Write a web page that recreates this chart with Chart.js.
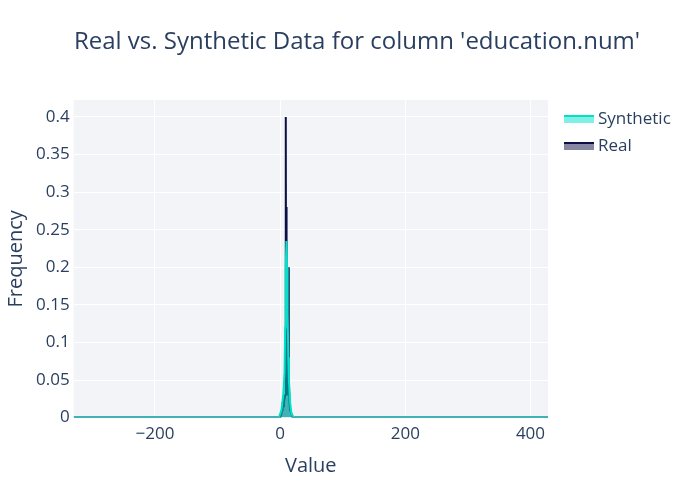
<!DOCTYPE html>
<html>
<head>
<meta charset="utf-8">
<script src="https://cdn.jsdelivr.net/npm/chart.js@4"></script>
<style>
  body { margin: 0; background: #fff; }
  #wrap { width: 700px; height: 500px; }
</style>
</head>
<body>
<div id="wrap"><canvas id="chart"></canvas></div>
<script>
// Valores
const realX = [-330, 0, 2, 3, 4, 5, 6, 7, 8, 9, 9.5, 10, 10.5, 11, 12, 13, 13.5, 14, 15, 16, 20, 428];
const realY = [0, 0, 0.005, 0.01, 0.02, 0.015, 0.03, 0.025, 0.03, 0.40, 0.05, 0.28, 0.05, 0.04, 0.03, 0.20, 0.03, 0.05, 0.02, 0.01, 0, 0];
const synthX = [-330, -2, 2, 5, 7, 8, 9, 10, 11, 12, 13, 14, 16, 18, 22, 428];
const synthY = [0, 0, 0.01, 0.03, 0.06, 0.12, 0.2, 0.235, 0.2, 0.14, 0.08, 0.05, 0.02, 0.005, 0, 0];
const xTicks = [-200, 0, 200, 400];
const yTicks = [0, 0.05, 0.1, 0.15, 0.2, 0.25, 0.3, 0.35, 0.4];

const toPoints = (xs, ys) => xs.map((x, i) => ({ x: x, y: ys[i] }));
const fontFamily = 'Open Sans, DejaVu Sans, sans-serif';
const font = { family: fontFamily };

// Fondo del área, título y leyenda dibujados a mano
const decor = {
    id: 'decor',
    beforeDraw(chart) {
        const { ctx, chartArea: a } = chart;
        ctx.save();
        ctx.fillStyle = '#f3f4f8';
        ctx.fillRect(a.left, a.top, a.right - a.left, a.bottom - a.top);
        ctx.restore();
    },
    afterDraw(chart) {
        const ctx = chart.ctx;
        ctx.save();
        ctx.fillStyle = '#2a3f5f';
        ctx.font = '24px ' + fontFamily;
        ctx.textAlign = 'center';
        ctx.textBaseline = 'middle';
        ctx.fillText("Real vs. Synthetic Data for column 'education.num'", 357, 42);
        ctx.textAlign = 'left';
        ctx.font = '17px ' + fontFamily;
        chart.data.datasets.forEach((ds, i) => {
            const y = 119 + i * 27;
            ctx.fillStyle = ds.backgroundColor;
            ctx.fillRect(564, y - 4, 30, 8);
            ctx.strokeStyle = ds.borderColor;
            ctx.lineWidth = 2;
            ctx.beginPath();
            ctx.moveTo(564, y - 3);
            ctx.lineTo(594, y - 3);
            ctx.stroke();
            ctx.fillStyle = '#2a3f5f';
            ctx.fillText(ds.label, 598, y);
        });
        ctx.restore();
    }
};

new Chart(document.getElementById('chart'), {
    type: 'line',
    data: {
        datasets: [{
            label: 'Synthetic',
            data: toPoints(synthX, synthY),
            borderColor: '#01e0c9',
            backgroundColor: 'rgba(1,224,201,0.5)',
            borderWidth: 2,
            fill: 'origin',
            pointRadius: 0,
            tension: 0
        }, {
            label: 'Real',
            data: toPoints(realX, realY),
            borderColor: '#0b0f45',
            backgroundColor: 'rgba(11,15,69,0.5)',
            borderWidth: 2,
            fill: 'origin',
            pointRadius: 0,
            tension: 0
        }]
    },
    options: {
        responsive: true,
        maintainAspectRatio: false,
        animation: false,
        layout: { padding: { top: 100, right: 152, left: 0, bottom: 18 } },
        plugins: {
            legend: { display: false },
            title: { display: false },
            tooltip: { enabled: false }
        },
        scales: {
            x: {
                type: 'linear',
                min: -330,
                max: 428,
                afterBuildTicks: axis => { axis.ticks = xTicks.map(v => ({ value: v })); },
                ticks: {
                    color: '#2a3f5f',
                    font: { ...font, size: 17 },
                    padding: 6,
                    callback: v => v < 0 ? '\u2212' + Math.abs(v) : v
                },
                grid: { color: '#ffffff', lineWidth: 1, drawTicks: false },
                border: { display: false },
                title: { display: true, text: 'Value', color: '#2a3f5f', font: { ...font, size: 20 } }
            },
            y: {
                min: 0,
                max: 0.4225,
                afterBuildTicks: axis => { axis.ticks = yTicks.map(v => ({ value: v })); },
                ticks: {
                    color: '#2a3f5f',
                    font: { ...font, size: 17 },
                    padding: 4,
                    callback: v => String(Math.round(v * 100) / 100)
                },
                grid: { color: '#ffffff', lineWidth: 1, drawTicks: false },
                border: { display: false },
                title: { display: true, text: 'Frequency', color: '#2a3f5f', font: { ...font, size: 20 } }
            }
        }
    },
    plugins: [decor]
});
</script>
</body>
</html>
